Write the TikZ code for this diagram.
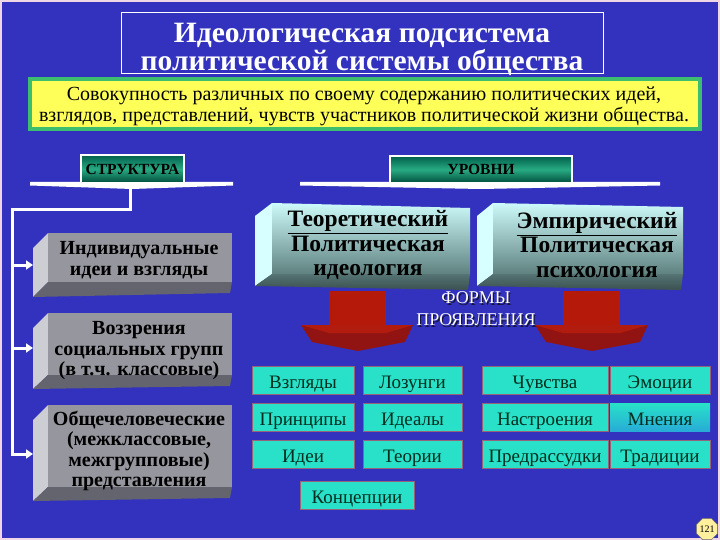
\documentclass[tikz,border=0pt]{standalone}
\usepackage{fontspec}
\setmainfont{Liberation Serif}
\usetikzlibrary{arrows.meta,shapes.geometric}
\definecolor{bgblue}{RGB}{50,50,190}
\definecolor{frame}{RGB}{240,215,230}
\definecolor{ylw}{RGB}{255,255,90}
\definecolor{ygreen}{RGB}{60,190,110}
\definecolor{hdtop}{RGB}{0,95,75}
\definecolor{hdmid}{RGB}{40,170,130}
\definecolor{gfront}{RGB}{150,150,158}
\definecolor{gleft}{RGB}{205,205,212}
\definecolor{gbottom}{RGB}{100,100,110}
\definecolor{cfronttop}{RGB}{205,250,250}
\definecolor{cfrontbot}{RGB}{95,130,128}
\definecolor{cleft}{RGB}{215,255,255}
\definecolor{cbottom}{RGB}{85,115,115}
\definecolor{redstem}{RGB}{180,25,10}
\definecolor{redhead}{RGB}{145,20,18}
\definecolor{redtop}{RGB}{178,28,14}
\definecolor{cyanbox}{RGB}{40,225,200}
\definecolor{cyanedge}{RGB}{150,100,120}
\definecolor{boxtext}{RGB}{0,45,30}
\definecolor{pagey}{RGB}{255,240,160}
\definecolor{mnblue}{RGB}{40,170,215}
\definecolor{shadowc}{RGB}{20,20,60}
\begin{document}
\begin{tikzpicture}[x=1pt,y=-1pt,
  titletext/.style={text=white,font=\fontsize{29.5}{30}\selectfont\bfseries,inner sep=0,anchor=base},
  deftext/.style={text=black,font=\fontsize{20}{21}\selectfont,align=center,inner sep=0},
  hdbox/.style={draw=white,line width=1.2,top color=hdtop,bottom color=hdtop!80!black,middle color=hdmid,
     inner sep=0,font=\fontsize{15.5}{15.5}\selectfont\bfseries,text=black},
  wline/.style={draw=white,line width=3},
  warrow/.style={draw=white,line width=3,-{Triangle[width=9pt,length=7pt]}},
  gfrontbox/.style={fill=gfront,inner sep=0},
  gtext/.style={font=\fontsize{20}{20.5}\selectfont\bfseries,align=center,text=black,inner sep=0},
  ctext/.style={font=\fontsize{23.5}{24.5}\selectfont\bfseries,align=center,text=black,inner sep=0},
  ftext/.style={font=\fontsize{18}{22}\selectfont,align=center,text=white,inner sep=0},
  sbox/.style={draw=cyanedge,line width=1,fill=cyanbox,inner sep=0,minimum height=28,
     text height=18,text depth=2,font=\fontsize{19}{19}\selectfont,text=boxtext},
]
\useasboundingbox (0,0) rectangle (720,540);
\fill[frame] (0,0) rectangle (720,540);
\fill[bgblue] (2,2) rectangle (718,538);

% title
\node[draw=white,line width=0.8,minimum width=482,minimum height=61,inner sep=0] (tbox) at (362,42.5) {};
\node[titletext] (title1) at (362,42.5) {Идеологическая подсистема};
\node[titletext] (title2) at (362,71) {политической системы общества};

% definition
\node[draw=ygreen,line width=3.5,fill=ylw,minimum width=670,minimum height=50,inner sep=0] (defbox) at (365,104) {};
\node[deftext] (def) at (364,106.5) {Совокупность различных по своему содержанию политических идей,\\взглядов, представлений, чувств участников политической жизни общества.};

% headers with bars
\fill[white] (30,182) -- (233,182) -- (233,185.5) -- (132,189) -- (30,185.5) -- cycle;
\node[hdbox,minimum width=103,minimum height=28] (str) at (132.5,169) {СТРУКТУРА};
\fill[white] (300,182) -- (660,182) -- (660,185.5) -- (481,189) -- (300,185.5) -- cycle;
\node[hdbox,minimum width=182,minimum height=27] (urv) at (481,169.5) {УРОВНИ};

% tree
\coordinate (tr0) at (130,188);
\coordinate (tr1) at (12,210);
\coordinate (tr2) at (12,456);
\draw[wline] (tr0) |- (tr1) -- (tr2);
\coordinate (a1) at (12,265); \coordinate (e1) at (33,265);
\coordinate (a2) at (12,348); \coordinate (e2) at (33,348);
\coordinate (a3) at (12,454); \coordinate (e3) at (33,454);
\draw[warrow] (a1) -- (e1);
\draw[warrow] (a2) -- (e2);
\draw[warrow] (a3) -- (e3);

% gray prisms
\fill[gleft] (48,233) -- (33,248) -- (33,297) -- (48,282) -- cycle;
\fill[gbottom] (33,297) -- (48,282) -- (232,282) -- (230,293) -- cycle;
\node[gfrontbox,minimum width=184,minimum height=49] (g1) at (140,257.5) {};
\node[gtext] (g1t) at (139,260) {Индивидуальные\\идеи и взгляды};

\fill[gleft] (48,313) -- (33,328) -- (33,389) -- (48,375) -- cycle;
\fill[gbottom] (33,389) -- (48,375) -- (232,375) -- (230,386) -- cycle;
\node[gfrontbox,minimum width=184,minimum height=62] (g2) at (140,344) {};
\node[gtext] (g2t) at (139,351) {Воззрения\\социальных групп\\(в т.ч. классовые)};

\fill[gleft] (48,405) -- (33,420) -- (33,501) -- (48,487) -- cycle;
\fill[gbottom] (33,501) -- (48,487) -- (232,487) -- (230,498) -- cycle;
\node[gfrontbox,minimum width=184,minimum height=82] (g3) at (140,446) {};
\node[gtext] (g3t) at (139,451) {Общечеловеческие\\(межклассовые,\\межгрупповые)\\представления};

% cyan prisms
\fill[cleft] (272,203) -- (255,216) -- (255,286) -- (272,274) -- cycle;
\shade[top color=cbottom,bottom color=cbottom!70!black] (255,286) -- (272,274) -- (470,274) -- (468,290) -- cycle;
\shade[top color=cfronttop,bottom color=cfrontbot] (272,203) -- (470,208) -- (470,274) -- (272,274) -- cycle;
\node[inner sep=0,minimum width=198,minimum height=70] (lev1) at (371,239) {};
\node[ctext] (lev1t) at (368,245) {\underline{Теоретический}\\Политическая\\идеология};

\fill[cleft] (493,203) -- (477,216) -- (477,286) -- (493,274) -- cycle;
\shade[top color=cbottom,bottom color=cbottom!70!black] (477,286) -- (493,274) -- (683,274) -- (681,290) -- cycle;
\shade[top color=cfronttop,bottom color=cfrontbot] (493,203) -- (683,207) -- (683,274) -- (493,274) -- cycle;
\node[inner sep=0,minimum width=190,minimum height=70] (lev2) at (588,239) {};
\node[ctext] (lev2t) at (597,245) {\underline{Эмпирический}\\Политическая\\психология};

% red arrows
\fill[redstem] (329,291) rectangle (386,327);
\fill[redhead] (301,325) -- (413,325) -- (405,342) -- (358,351) -- (312,342) -- cycle;
\fill[redtop] (301,325) -- (413,325) -- (386,333) -- (329,333) -- cycle;
\fill[redstem] (563,291) rectangle (620,327);
\fill[redhead] (535,325) -- (648,325) -- (640,342) -- (592,351) -- (546,342) -- cycle;
\fill[redtop] (535,325) -- (648,325) -- (620,333) -- (563,333) -- cycle;
\node[ftext,text=shadowc] (formsh) at (477.2,310.2) {ФОРМЫ\\ПРОЯВЛЕНИЯ};
\node[ftext] (forms) at (476,309) {ФОРМЫ\\ПРОЯВЛЕНИЯ};

% small boxes
\node[sbox,minimum width=102] (s11) at (303,380) {Взгляды};
\node[sbox,minimum width=99] (s12) at (412.5,380) {Лозунги};
\node[sbox,minimum width=126] (s13) at (545,380) {Чувства};
\node[sbox,minimum width=100] (s14) at (660,380) {Эмоции};
\node[sbox,minimum width=102] (s21) at (303,417.5) {Принципы};
\node[sbox,minimum width=99] (s22) at (412.5,417.5) {Идеалы};
\node[sbox,minimum width=126] (s23) at (545,417.5) {Настроения};
\node[sbox,minimum width=100,draw=none,top color=cyanbox,bottom color=mnblue] (s24) at (660,417.5) {Мнения};
\node[sbox,minimum width=102] (s31) at (303,454) {Идеи};
\node[sbox,minimum width=99] (s32) at (412.5,454) {Теории};
\node[sbox,minimum width=126] (s33) at (545,454) {Предрассудки};
\node[sbox,minimum width=100] (s34) at (660,454) {Традиции};
\node[sbox,minimum width=114] (s41) at (357,495) {Концепции};

% page number
\node[regular polygon,regular polygon sides=8,draw=black!60,fill=pagey,minimum size=23,inner sep=0,
  font=\fontsize{10}{10}\selectfont] (pg) at (707,529) {121};
\end{tikzpicture}
\end{document}
